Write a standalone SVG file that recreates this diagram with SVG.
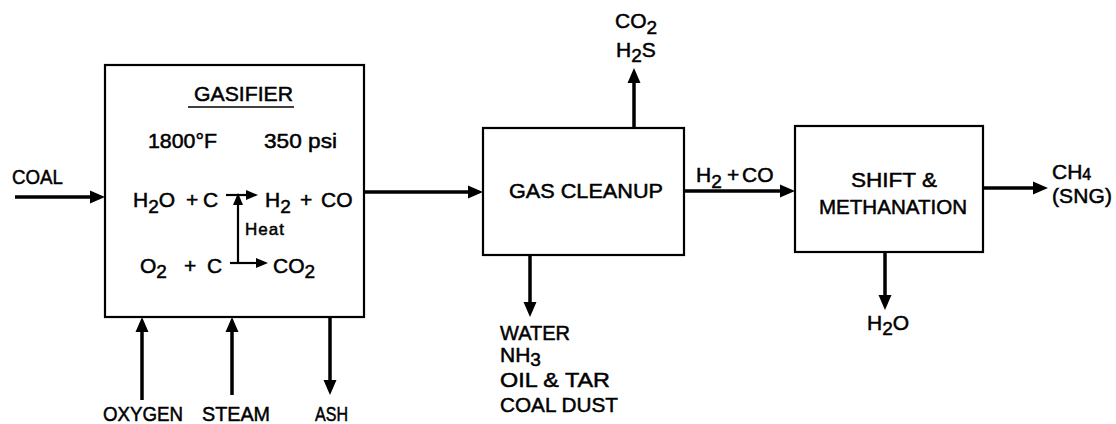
<svg xmlns="http://www.w3.org/2000/svg" width="1116" height="424" viewBox="0 0 1116 424">
<style>
text{font-family:"Liberation Sans",Arial,sans-serif;font-size:21px;fill:#000;stroke:#000;stroke-width:0.5}
.sm{font-size:17px;letter-spacing:1px}
.sub{font-size:19px}
.box{fill:#fff;stroke:#000;stroke-width:2.2}
.flow{fill:none;stroke:#000;stroke-width:3.5}
.thin{fill:none;stroke:#000;stroke-width:2.2}
</style>
<defs>
<marker id="ah" markerUnits="userSpaceOnUse" markerWidth="16" markerHeight="14" refX="0" refY="6.5" orient="auto" overflow="visible">
<path d="M0,0 L15,6.5 L0,13 z" fill="#000"/>
</marker>
<marker id="ahs" markerUnits="userSpaceOnUse" markerWidth="14" markerHeight="12" refX="0" refY="5" orient="auto" overflow="visible">
<path d="M0,0 L12,5 L0,10 z" fill="#000"/>
</marker>
</defs>
<rect width="1116" height="424" fill="#fff"/>

<g id="gasifier">
<rect class="box" x="105" y="65" width="259" height="252"/>
<text x="194" y="101" textLength="99" lengthAdjust="spacingAndGlyphs">GASIFIER</text>
<line x1="188" y1="107" x2="294" y2="107" stroke="#000" stroke-width="1.5"/>
<text x="148" y="148" textLength="69" lengthAdjust="spacingAndGlyphs">1800°F</text>
<text x="264" y="148" textLength="73" lengthAdjust="spacingAndGlyphs">350 psi</text>
<text y="207"><tspan x="133">H</tspan><tspan class="sub" dy="6">2</tspan><tspan dy="-6">O</tspan><tspan x="186">+</tspan><tspan x="203">C</tspan></text>
<text y="207"><tspan x="265">H</tspan><tspan class="sub" dy="6">2</tspan><tspan dy="-6" x="300">+</tspan><tspan x="321">CO</tspan></text>
<text class="sm" x="245" y="235">Heat</text>
<text y="273"><tspan x="140">O</tspan><tspan class="sub" dy="5">2</tspan><tspan dy="-5" x="184">+</tspan><tspan x="207">C</tspan></text>
<text y="273" x="273">CO<tspan class="sub" dy="5">2</tspan></text>
<line class="thin" x1="226" y1="195" x2="246" y2="195" marker-end="url(#ahs)"/>
<line class="thin" x1="238" y1="263" x2="238" y2="205" marker-end="url(#ahs)"/>
<line class="thin" x1="230" y1="263" x2="256" y2="263" marker-end="url(#ahs)"/>
</g>

<g id="gas-cleanup">
<rect class="box" x="483" y="128" width="201" height="127"/>
<text x="509" y="198" font-size="20" textLength="154" lengthAdjust="spacingAndGlyphs">GAS CLEANUP</text>
</g>

<g id="shift-methanation">
<rect class="box" x="795" y="126" width="188" height="126"/>
<text x="851" y="187" textLength="86" lengthAdjust="spacingAndGlyphs">SHIFT &amp;</text>
<text x="819" y="214" textLength="148" lengthAdjust="spacingAndGlyphs">METHANATION</text>
</g>

<g id="labels">
<text x="12" y="184" font-size="18" textLength="51" lengthAdjust="spacingAndGlyphs">COAL</text>
<text x="103" y="421" textLength="80" lengthAdjust="spacingAndGlyphs">OXYGEN</text>
<text x="202" y="421" textLength="68" lengthAdjust="spacingAndGlyphs">STEAM</text>
<text x="315" y="421" textLength="33" lengthAdjust="spacingAndGlyphs">ASH</text>
<text x="615" y="28" font-size="19">CO<tspan class="sub" dy="6">2</tspan></text>
<text y="57" font-size="19"><tspan x="616">H</tspan><tspan class="sub" dy="5">2</tspan><tspan dy="-5">S</tspan></text>
<text y="182"><tspan x="696">H</tspan><tspan class="sub" dy="6">2</tspan><tspan dy="-6" x="727">+</tspan><tspan x="742">CO</tspan></text>
<text x="500" y="340" textLength="70" lengthAdjust="spacingAndGlyphs">WATER</text>
<text x="500" y="362">NH<tspan class="sub" dy="4">3</tspan></text>
<text x="500" y="387" textLength="110" lengthAdjust="spacingAndGlyphs">OIL &amp; TAR</text>
<text x="500" y="412" textLength="118" lengthAdjust="spacingAndGlyphs">COAL DUST</text>
<text x="1052" y="179" font-size="18">CH<tspan font-size="16" dy="1">4</tspan></text>
<text x="1052" y="203" font-size="18" textLength="60" lengthAdjust="spacing">(SNG)</text>
<text y="330"><tspan x="867">H</tspan><tspan class="sub" dy="5">2</tspan><tspan dy="-5">O</tspan></text>
</g>

<g id="connectors">
<line class="flow" x1="15" y1="197" x2="90" y2="197" marker-end="url(#ah)"/>
<line class="flow" x1="364" y1="192" x2="468" y2="192" marker-end="url(#ah)"/>
<line class="flow" x1="634" y1="128" x2="634" y2="83" marker-end="url(#ah)"/>
<line class="flow" x1="530" y1="255" x2="530" y2="302" marker-end="url(#ah)"/>
<line class="flow" x1="684" y1="191" x2="780" y2="191" marker-end="url(#ah)"/>
<line class="flow" x1="983" y1="188" x2="1033" y2="188" marker-end="url(#ah)"/>
<line class="flow" x1="885" y1="252" x2="885" y2="295" marker-end="url(#ah)"/>
<line class="flow" x1="142" y1="400" x2="142" y2="332" marker-end="url(#ah)"/>
<line class="flow" x1="232" y1="395" x2="232" y2="332" marker-end="url(#ah)"/>
<line class="flow" x1="330" y1="317" x2="330" y2="380" marker-end="url(#ah)"/>
</g>
</svg>
